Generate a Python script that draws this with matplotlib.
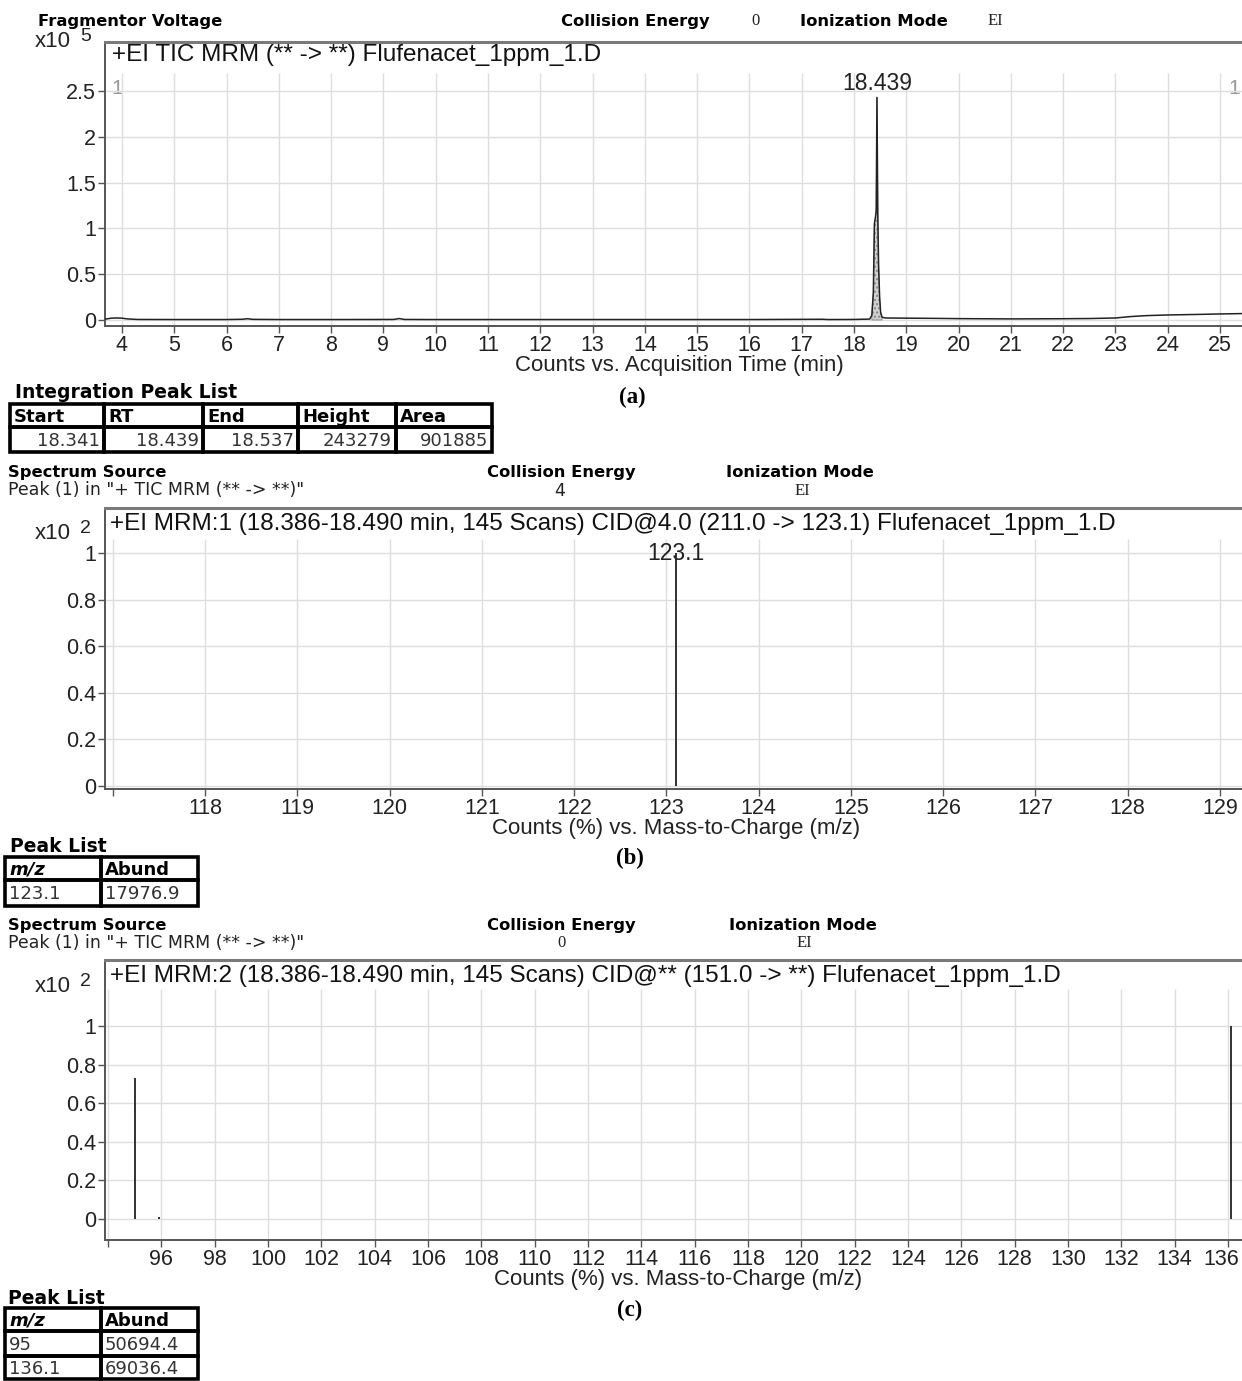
import matplotlib
matplotlib.use("Agg")
import matplotlib.pyplot as plt
from matplotlib.patches import Rectangle
from matplotlib.transforms import ScaledTranslation
import numpy as np

W, H = 1242, 1381

# ---- data ----
# (a) TIC chromatogram, counts x10^5
tic_time = [3.68, 3.8, 3.9, 4.0, 4.1, 4.3, 5.0, 6.0, 6.3, 6.4, 6.5, 7.0, 8.0, 9.2, 9.3, 9.4,
            10.0, 12.0, 14.0, 16.0, 17.4, 17.5, 18.0, 18.30, 18.341, 18.37, 18.39, 18.41,
            18.425, 18.439, 18.455, 18.47, 18.49, 18.51, 18.537, 18.6, 19.0, 19.5, 20.0,
            21.0, 22.0, 22.5, 23.0, 23.3, 23.6, 24.0, 24.5, 25.0, 25.42]
tic_counts = [0.01, 0.02, 0.022, 0.02, 0.012, 0.006, 0.005, 0.005, 0.008, 0.014, 0.007,
              0.005, 0.005, 0.006, 0.016, 0.006, 0.005, 0.005, 0.005, 0.005, 0.008, 0.005,
              0.006, 0.01, 0.05, 0.3, 1.05, 1.12, 1.2, 2.43, 1.15, 0.6, 0.25, 0.08, 0.03,
              0.022, 0.02, 0.018, 0.015, 0.012, 0.014, 0.016, 0.022, 0.038, 0.048, 0.055,
              0.06, 0.066, 0.07]
peak_start, peak_rt, peak_end = 18.341, 18.439, 18.537
peak_height = 2.43

# (b) MRM:1 spectrum, counts % x10^2
mz_b = [123.1]
ab_b = [1.0]

# (c) MRM:2 spectrum
mz_c = [95.0, 95.9, 136.1]
ab_c = [0.73, 0.012, 1.0]

int_header = ["Start", "RT", "End", "Height", "Area"]
int_row = ["18.341", "18.439", "18.537", "243279", "901885"]
peak_b_rows = [["123.1", "17976.9"]]
peak_c_rows = [["95", "50694.4"], ["136.1", "69036.4"]]

SANS = "Liberation Sans"
HDR = "DejaVu Sans"
SERIF = "Liberation Serif"
GRID = "#dedede"
SPINE = "#555555"
FS = 17.5      # panel titles
XL = 16        # x axis labels
TK = 15.5      # tick labels
HS = 11.8      # bold header size

fig = plt.figure(figsize=(W / 100, H / 100), dpi=100)
ov = fig.add_axes([0, 0, 1, 1], zorder=0)
ov.set_xlim(0, W)
ov.set_ylim(H, 0)
ov.axis("off")


def panel(l, r, t, b):
    return fig.add_axes([l / W, 1 - b / H, (r - l) / W, (b - t) / H], zorder=2)


def style(ax, xlim, ylim, xticks, xlabels, yticks, ylabels, gtop):
    ax.set_xlim(*xlim)
    ax.set_ylim(*ylim)
    ax.patch.set_alpha(0)
    ax.spines["right"].set_visible(False)
    ax.spines["top"].set_color("#7a7a7a")
    ax.spines["top"].set_linewidth(2.2)
    for s in ("left", "bottom"):
        ax.spines[s].set_color(SPINE)
        ax.spines[s].set_linewidth(1.4)
    ax.set_xticks(xticks)
    ax.set_xticklabels(xlabels)
    ax.set_yticks(yticks)
    ax.set_yticklabels(ylabels)
    ax.tick_params(length=5, width=1, color=SPINE, labelsize=TK, pad=1.5,
                   labelcolor="#222222")
    for lab in ax.get_xticklabels() + ax.get_yticklabels():
        lab.set_fontfamily(SANS)
    ax.vlines(xticks, ylim[0], gtop, color=GRID, lw=1, zorder=0)
    ax.hlines(yticks, xlim[0], xlim[1], color=GRID, lw=1, zorder=0)


def table(x_edges, y_edges, rows, right_align=False, italic_cells=()):
    for i, row in enumerate(rows):
        for j, txt in enumerate(row):
            x0, x1 = x_edges[j], x_edges[j + 1]
            y0, y1 = y_edges[i], y_edges[i + 1]
            ov.add_patch(Rectangle((x0, y0), x1 - x0, y1 - y0, fill=False,
                                   ec="black", lw=2.6))
            ym = (y0 + y1) / 2 + 1
            kw = dict(va="center", fontsize=13, family=HDR)
            if i == 0:
                kw.update(weight="bold", color="black")
                if (i, j) in italic_cells:
                    kw.update(style="italic")
                ov.text(x0 + 4, ym, txt, ha="left", **kw)
            else:
                kw.update(color="#333333")
                if right_align:
                    ov.text(x1 - 4, ym, txt, ha="right", **kw)
                else:
                    ov.text(x0 + 4, ym, txt, ha="left", **kw)


def hdr(x, y, s):
    ov.text(x, y, s, va="center", ha="left", fontsize=HS, family=HDR, weight="bold")


def small(x, y, s, ha="left", family=HDR, size=12.5):
    ov.text(x, y, s, va="center", ha=ha, fontsize=size, family=family, color="#222222")


def mult(y, e):
    ov.text(35, y, "x10", va="center", ha="left", fontsize=16, family=SANS, color="#222")
    ov.text(80, y - 5, e, va="center", ha="left", fontsize=14, family=SANS, color="#222")


def xlab(x, y, s):
    ov.text(x, y, s, ha="center", va="center", fontsize=XL, family=SANS, color="#222")


def panel_label(x, y, s):
    ov.text(x, y, s, ha="center", va="center", fontsize=16.5, family=SERIF, weight="bold")


# ---- header (a) ----
hdr(38, 21, "Fragmentor Voltage")
hdr(561, 21, "Collision Energy")
small(755, 21, "0", ha="center", family=SERIF, size=12)
hdr(800, 21, "Ionization Mode")
small(988, 21, "EI", family=SERIF, size=12)

# ---- panel (a) ----
ax = panel(105, W, 42, 326)
pp = 91.6
style(ax, (4 - 17 / 52.29, 25 + 22 / 52.29), (-6 / pp, (320 - 42) / pp),
      list(range(4, 26)), [str(v) for v in range(4, 26)],
      [0, 0.5, 1, 1.5, 2, 2.5], ["0", "0.5", "1", "1.5", "2", "2.5"], 2.70)
t = np.array(tic_time)
c = np.array(tic_counts)
mask = (t >= peak_start) & (t <= peak_end)
ax.fill_between(t, 0, c, where=mask, facecolor="#d0d0d0", edgecolor="#888888",
                hatch="....", lw=0.6, zorder=2)
ax.plot(t, c, color="#222222", lw=1.1, zorder=3)
ax.text(peak_rt, peak_height + 0.03, f"{peak_rt:.3f}", ha="center", va="bottom",
        fontsize=16.5, family=SANS, color="#222")
ax.text(0.006, 0.954, "+EI TIC MRM (** -> **) Flufenacet_1ppm_1.D", transform=ax.transAxes,
        ha="left", va="center", fontsize=FS, family=SANS, color="#111")
ov.text(117, 88, "1", ha="center", va="center", fontsize=15, family=SANS, color="#999")
ov.text(1234, 88, "1", ha="center", va="center", fontsize=15, family=SANS, color="#999")
mult(41, "5")
xlab(679, 365, "Counts vs. Acquisition Time (min)")
panel_label(632, 397, "(a)")

ov.text(15, 392, "Integration Peak List", ha="left", va="center", fontsize=13.5,
        family=HDR, weight="bold")
table([10, 104, 203, 298, 396, 492], [404, 427, 452], [int_header, int_row],
      right_align=True)

# ---- header (b) ----
hdr(8, 472, "Spectrum Source")
small(8, 490, 'Peak (1) in "+ TIC MRM (** -> **)"')
hdr(487, 472, "Collision Energy")
small(560, 491, "4", ha="center")
hdr(726, 472, "Ionization Mode")
small(802, 491, "EI", ha="center", family=SERIF, size=12)

# ---- panel (b) ----
ax = panel(105, W, 508, 789)
pp = 233.0
style(ax, (118 - 100 / 92.27, 129 + 22 / 92.27), (-3 / pp, (786 - 508) / pp),
      list(range(117, 130)), [""] + [str(v) for v in range(118, 130)],
      [0, 0.2, 0.4, 0.6, 0.8, 1], ["0", "0.2", "0.4", "0.6", "0.8", "1"], 1.06)
ax.vlines(mz_b, 0, ab_b, color="#222222", lw=1.3, zorder=3)
for m, a in zip(mz_b, ab_b):
    ax.text(m, a, f"{m:.1f}", ha="center", va="center", fontsize=16.5, family=SANS,
            color="#222", zorder=4)
ax.text(0.004, 0.943, "+EI MRM:1 (18.386-18.490 min, 145 Scans) CID@4.0 (211.0 -> 123.1) "
        "Flufenacet_1ppm_1.D", transform=ax.transAxes, ha="left", va="center",
        fontsize=FS, family=SANS, color="#111")
mult(533, "2")
xlab(676, 828, "Counts (%) vs. Mass-to-Charge (m/z)")
panel_label(630, 858, "(b)")

ov.text(10, 846, "Peak List", ha="left", va="center", fontsize=13.5, family=HDR, weight="bold")
table([5, 101, 198], [857, 880, 906], [["m/z", "Abund"]] + peak_b_rows,
      italic_cells=((0, 0),))

# ---- header (c) ----
hdr(8, 925, "Spectrum Source")
small(8, 943, 'Peak (1) in "+ TIC MRM (** -> **)"')
hdr(487, 925, "Collision Energy")
small(562, 943, "0", ha="center", family=SERIF, size=12)
hdr(729, 925, "Ionization Mode")
small(804, 943, "EI", ha="center", family=SERIF, size=12)

# ---- panel (c) ----
ax = panel(105, W, 960, 1240)
pp = 193.0
style(ax, (94 - 3 / 26.75, 136 + 14 / 26.75), (-21 / pp, (1219 - 960) / pp),
      list(range(94, 137, 2)), [""] + [str(v) for v in range(96, 137, 2)],
      [0, 0.2, 0.4, 0.6, 0.8, 1], ["0", "0.2", "0.4", "0.6", "0.8", "1"], 1.19)
last = ax.get_xticklabels()[-1]
last.set_transform(last.get_transform() + ScaledTranslation(-0.07, 0, fig.dpi_scale_trans))
ax.vlines(mz_c, 0, ab_c, color="#222222", lw=1.3, zorder=3)
ax.text(0.004, 0.943, "+EI MRM:2 (18.386-18.490 min, 145 Scans) CID@** (151.0 -> **) "
        "Flufenacet_1ppm_1.D", transform=ax.transAxes, ha="left", va="center",
        fontsize=FS, family=SANS, color="#111")
mult(986, "2")
xlab(678, 1280, "Counts (%) vs. Mass-to-Charge (m/z)")
panel_label(630, 1310, "(c)")

ov.text(8, 1298, "Peak List", ha="left", va="center", fontsize=13.5, family=HDR, weight="bold")
table([5, 101, 198], [1308, 1331, 1356, 1379], [["m/z", "Abund"]] + peak_c_rows,
      italic_cells=((0, 0),))

fig.savefig("out.png", dpi=100)
